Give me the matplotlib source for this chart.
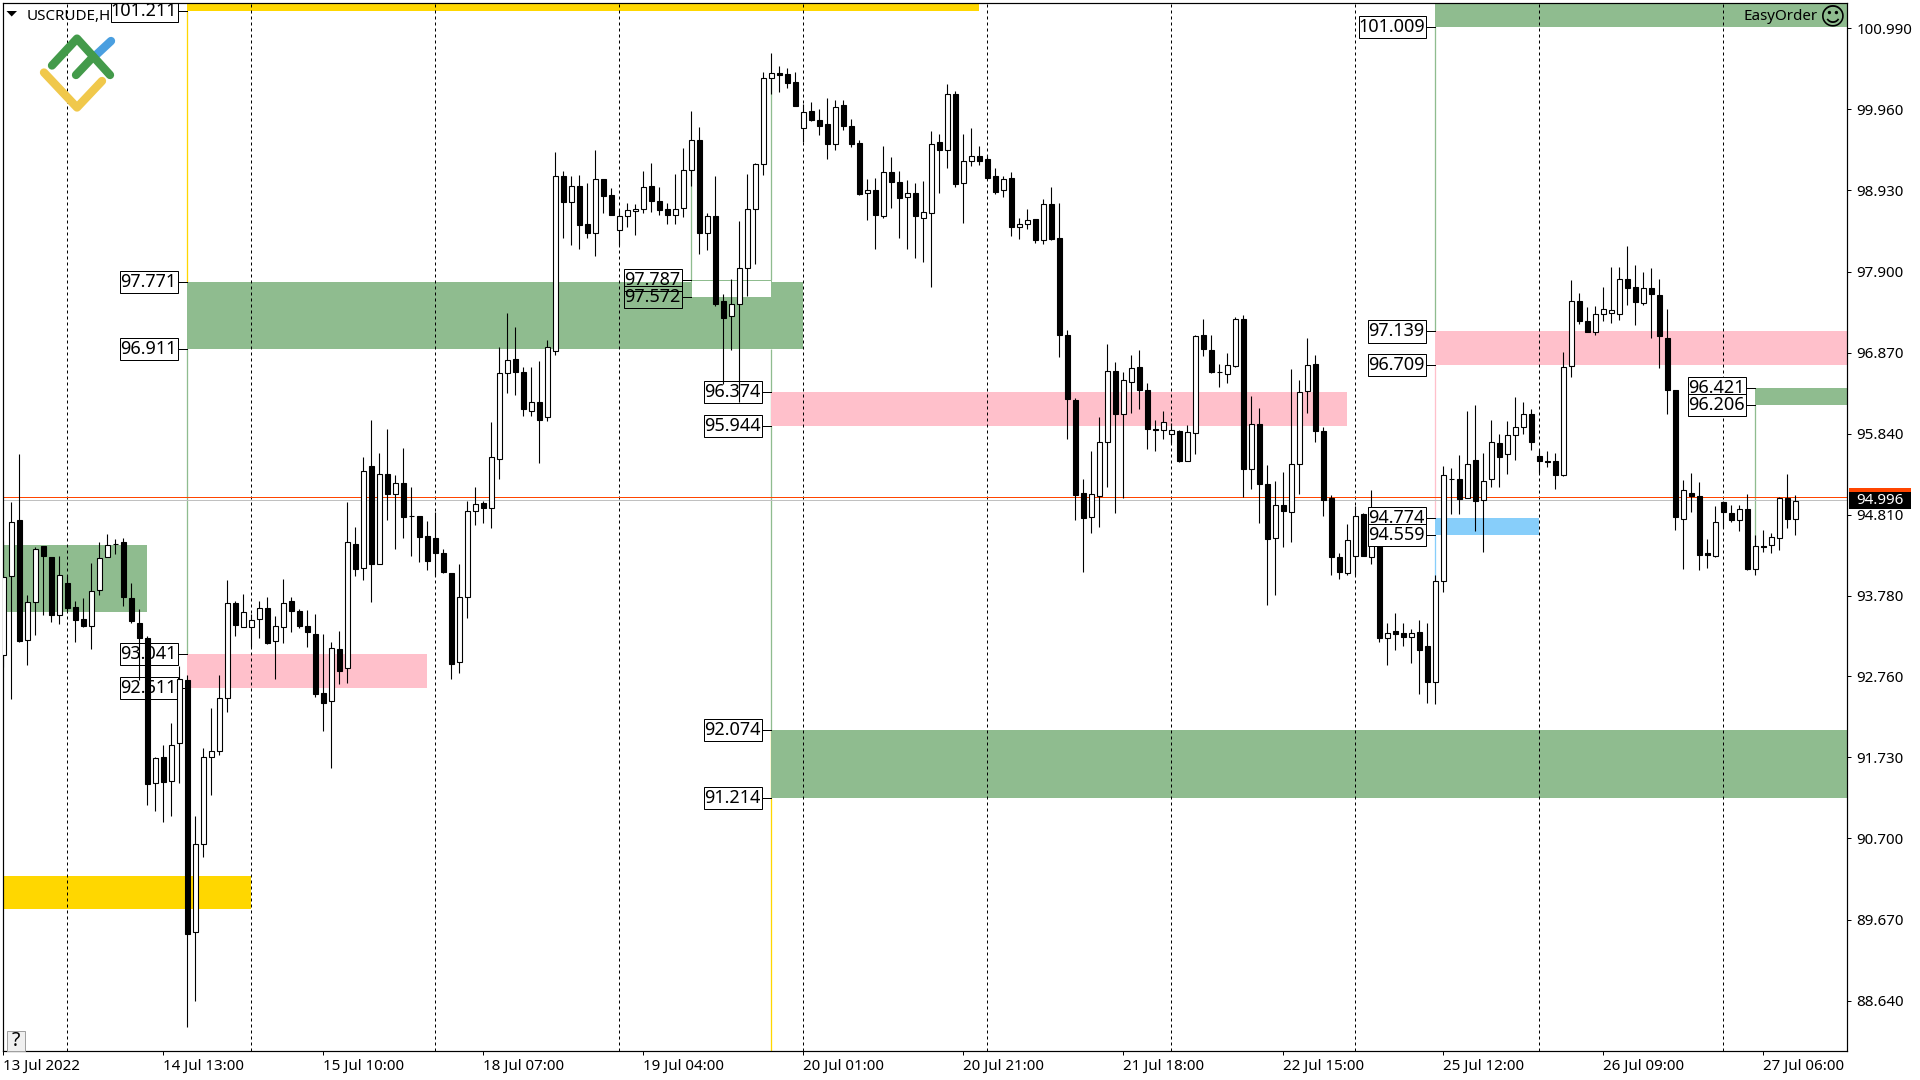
import numpy as np
import matplotlib
matplotlib.use('Agg')
import matplotlib.pyplot as plt
from matplotlib.lines import Line2D
from matplotlib.patches import Rectangle, Polygon

plt.rcParams['font.family'] = ['Noto Sans', 'DejaVu Sans']

W, H = 1920, 1080
PX = 0.72  # one pixel in points at dpi 100

opens = [93.03,94.03,94.75,93.22,93.70,94.41,94.28,93.54,93.95,93.64,
93.49,93.40,93.86,94.27,94.44,94.46,93.75,93.44,93.24,91.40,
91.73,91.43,91.91,92.71,89.51,90.63,91.74,91.81,92.48,93.69,
93.39,93.39,93.49,93.63,93.21,93.39,93.71,93.59,93.40,93.30,
92.55,92.44,93.10,92.87,94.44,94.13,95.43,94.19,95.33,95.07,
95.22,94.79,94.79,94.54,94.51,94.32,94.07,92.94,93.77,94.86,
94.96,94.90,95.52,96.61,96.79,96.63,96.13,96.24,96.05,96.89,
99.12,98.78,98.99,98.50,98.39,99.07,98.87,98.43,98.60,98.67,
98.70,98.99,98.80,98.69,98.62,98.71,99.19,99.57,98.39,98.60,
97.52,97.33,97.49,97.95,98.70,99.26,100.36,100.42,100.41,100.31,
99.72,99.94,99.82,99.77,99.52,100.01,99.75,99.53,98.90,98.93,
98.60,99.17,99.04,98.85,98.90,98.58,98.64,99.54,99.44,100.15,
99.03,99.31,99.37,99.33,99.11,98.93,99.09,98.47,98.51,98.57,
98.30,98.76,98.32,97.09,96.27,95.09,94.78,95.05,95.73,96.64,
96.09,96.50,96.69,96.40,95.90,95.89,95.84,95.88,95.49,95.85,
97.09,96.91,96.63,96.60,96.70,97.30,95.39,95.97,95.20,94.51,
94.94,94.84,95.45,96.38,96.73,95.88,95.03,94.28,94.07,94.29,
94.82,94.28,94.74,93.24,93.33,93.31,93.26,93.32,93.14,92.69,
93.97,95.27,95.27,95.03,95.51,95.00,95.26,95.72,95.58,95.82,
95.92,96.09,95.56,95.49,95.49,95.32,96.70,97.52,97.27,97.13,
97.36,97.38,97.36,97.81,97.70,97.50,97.69,97.60,97.05,96.39,
94.76,95.09,95.05,94.33,94.29,94.97,94.83,94.74,94.89,94.12,
94.42,94.43,94.52,95.03,94.76]

highs = [94.48,94.97,95.58,93.79,94.40,94.41,94.28,94.29,94.04,93.71,
93.76,94.20,94.46,94.57,94.50,94.52,93.95,93.62,93.27,91.73,
91.89,92.17,92.89,92.78,90.98,91.85,92.36,92.78,93.98,93.72,
93.81,93.55,93.72,93.77,93.52,94.00,93.77,93.62,93.60,93.55,
93.30,93.20,93.34,94.97,94.65,95.54,96.02,95.60,95.90,95.31,
95.66,95.16,94.79,94.73,94.84,94.38,94.07,94.19,94.99,95.16,
94.99,95.99,96.94,97.37,97.19,96.69,96.69,96.77,97.03,99.42,
99.18,99.11,99.13,99.02,99.45,99.08,98.96,98.68,98.77,98.76,
99.18,99.28,98.98,98.77,99.14,99.47,99.94,99.73,98.65,99.11,
97.62,97.81,98.54,99.14,99.28,100.43,100.68,100.51,100.49,100.43,
100.03,100.05,99.96,100.10,100.08,100.08,99.84,99.57,99.08,99.09,
99.49,99.36,99.18,99.06,99.03,99.05,99.68,99.65,100.28,100.19,
99.65,99.72,99.50,99.38,99.21,99.11,99.17,98.58,98.70,98.57,
98.82,98.98,98.77,97.16,96.30,95.26,95.62,96.05,96.98,96.75,
96.62,96.84,96.90,96.49,96.01,96.13,95.98,95.89,95.95,97.10,
97.30,97.09,96.73,96.87,97.32,97.35,96.32,96.17,95.44,95.24,
95.35,96.66,96.52,97.05,96.84,95.92,95.06,94.32,94.69,94.92,
94.83,95.13,94.80,93.44,93.56,93.44,93.36,93.48,93.43,94.04,
95.43,95.41,95.57,96.13,96.20,95.60,96.02,95.84,96.00,96.31,
96.24,96.16,95.63,95.62,95.60,96.88,97.79,97.63,97.45,97.46,
97.71,97.96,97.96,98.23,97.98,97.89,97.94,97.81,97.42,96.39,
95.25,95.34,95.23,94.50,94.92,94.98,94.94,94.93,95.07,94.55,
94.62,94.58,95.04,95.33,95.06]

lows = [92.88,92.47,93.19,92.90,93.28,93.54,93.45,93.42,93.59,93.19,
93.38,93.11,93.79,94.27,94.31,93.65,93.43,92.71,91.12,91.05,
90.91,90.98,91.40,88.30,88.63,90.47,91.25,91.76,92.30,93.27,
93.38,93.13,93.24,93.17,92.72,93.18,93.32,93.37,93.13,92.49,
92.07,91.59,92.66,92.68,94.03,93.98,93.70,94.19,94.74,94.38,
94.51,94.29,94.21,94.11,94.03,94.07,92.72,92.80,93.50,94.68,
94.71,94.64,95.27,96.36,96.33,96.06,96.07,95.47,96.00,96.84,
98.32,98.24,98.19,98.32,98.10,98.64,98.62,98.24,98.47,98.36,
98.65,98.66,98.62,98.50,98.51,98.59,98.99,98.12,98.18,97.46,
96.47,96.91,96.24,97.59,97.99,99.13,100.16,100.18,100.23,100.00,
99.54,99.81,99.63,99.33,99.44,99.70,99.48,98.87,98.56,98.19,
98.58,98.71,98.32,98.19,98.07,98.02,97.71,98.90,99.21,98.98,
98.52,99.24,99.25,99.07,98.89,98.85,98.35,98.31,98.44,98.26,
98.25,98.30,96.82,95.77,94.75,94.08,94.58,94.66,95.16,94.83,
95.02,96.10,96.15,95.64,95.62,95.77,95.72,95.48,95.49,95.58,
96.83,96.61,96.43,96.49,96.69,95.04,95.14,94.71,93.67,93.79,
94.40,94.46,95.07,96.10,95.74,94.79,94.05,93.99,94.05,94.04,
94.29,94.18,93.20,92.90,93.09,93.15,92.93,92.53,92.42,92.41,
93.83,94.82,94.82,95.02,94.61,94.34,95.17,95.16,95.33,95.51,
95.84,95.63,95.34,95.42,95.14,95.30,96.56,97.24,97.13,97.09,
97.27,97.25,97.28,97.47,97.22,97.47,97.05,96.68,96.09,94.62,
94.12,94.85,94.11,94.13,94.27,94.64,94.72,94.61,94.11,94.04,
94.34,94.33,94.36,94.64,94.55]

closes = [94.02,94.72,93.21,93.70,94.38,94.29,93.54,94.04,93.63,93.47,
93.40,93.84,94.26,94.43,94.44,93.77,93.46,93.24,91.39,91.72,
91.42,91.89,92.73,89.49,90.63,91.73,91.81,92.48,93.69,93.41,
93.58,93.48,93.63,93.18,93.40,93.69,93.59,93.40,93.32,92.53,
92.42,93.12,92.83,94.46,94.12,95.37,94.19,95.33,95.07,95.22,
94.78,94.79,94.53,94.23,94.32,94.09,92.92,93.77,94.86,94.95,
94.90,95.54,96.61,96.78,96.62,96.15,96.24,96.01,96.94,99.11,
98.78,98.99,98.49,98.39,99.08,98.86,98.62,98.60,98.68,98.70,
98.98,98.80,98.68,98.62,98.70,99.19,99.57,98.39,98.60,97.49,
97.31,97.49,97.94,98.70,99.26,100.36,100.42,100.40,100.30,100.00,
99.93,99.83,99.75,99.52,99.99,99.75,99.52,98.89,98.93,98.62,
99.17,99.04,98.83,98.90,98.61,98.66,99.52,99.44,100.15,99.01,
99.31,99.37,99.31,99.09,98.91,99.08,98.47,98.50,98.56,98.30,
98.76,98.31,97.09,96.28,95.06,94.77,95.07,95.74,96.64,96.09,
96.52,96.68,96.40,95.90,95.89,95.99,95.89,95.49,95.86,97.08,
96.92,96.63,96.62,96.71,97.30,95.39,95.97,95.20,94.50,94.94,
94.86,95.45,96.37,96.71,95.88,95.00,94.27,94.08,94.49,94.80,
94.29,94.74,93.24,93.31,93.30,93.26,93.31,93.09,92.69,93.97,
95.31,95.26,95.01,95.46,94.99,95.24,95.73,95.55,95.82,95.92,
96.09,95.73,95.49,95.48,95.32,96.69,97.52,97.27,97.13,97.36,
97.43,97.41,97.81,97.69,97.51,97.69,97.62,97.08,96.39,94.78,
95.12,95.05,94.30,94.30,94.72,94.84,94.74,94.89,94.12,94.42,
94.40,94.53,95.03,94.76,94.99]

price_ticks = [100.99,99.96,98.93,97.90,96.87,95.84,94.81,93.78,92.76,91.73,90.70,89.67,88.64]
time_ticks = [0,20,40,60,80,100,120,140,160,180,200,220]
time_labels = ['13 Jul 2022','14 Jul 13:00','15 Jul 10:00','18 Jul 07:00','19 Jul 04:00','20 Jul 01:00',
               '20 Jul 21:00','21 Jul 18:00','22 Jul 15:00','25 Jul 12:00','26 Jul 09:00','27 Jul 06:00']
separators = [8,31,54,77,100,123,146,169,192,215]

bid = 94.996
ask = 95.04

X_MIN, X_MAX = -0.075, 230.5
Y_MIN, Y_MAX = 88.0, 101.315

GREEN, PINK, GOLD, BLUE = '#8FBC8F', '#FFC0CB', '#FFD700', '#87CEFA'

# zones: first bar, last bar, upper price, lower price, colour
zone_start = [23, 179, -1, 23, 86, 96, 96, 179, 179, 179, 219, 23, -1]
zone_end = [122, 231, 18, 100, 96, 168, 231, 231, 231, 192, 231, 53, 31]
zone_upper = [102.0, 102.0, 94.43, 97.771, 97.787, 96.374, 92.074, 102.0, 97.139, 94.774, 96.421, 93.041, 90.22]
zone_lower = [101.211, 101.009, 93.57, 96.911, 97.572, 95.944, 91.214, 101.009, 96.709, 94.559, 96.206, 92.611, 89.80]
zone_color = [GOLD, GREEN, GREEN, GREEN, 'white', PINK, GREEN, GREEN, PINK, BLUE, GREEN, PINK, GOLD]

# thin line from each zone back to the bar it belongs to
link_bar = [23, 23, 86, 96, 96, 96, 179, 179, 179, 219]
link_from = [101.211, 96.911, 99.19, 100.36, 96.911, 92.074, 101.009, 96.709, 94.559, 96.206]
link_to = [97.771, 93.041, 97.787, 97.787, 92.074, 88.0, 97.139, 94.774, 93.97, 94.42]
link_color = [GOLD, GREEN, GREEN, GREEN, GREEN, GOLD, GREEN, PINK, BLUE, GREEN]

label_bar = [23, 23, 23, 23, 23, 86, 86, 96, 96, 96, 96, 179, 179, 179, 179, 179, 219, 219]
label_price = [101.211, 97.771, 96.911, 93.041, 92.611, 97.787, 97.572, 96.374, 95.944, 92.074, 91.214,
               101.009, 97.139, 96.709, 94.774, 94.559, 96.421, 96.206]
label_text = ['%.3f' % p for p in label_price]

fig = plt.figure(figsize=(W / 100, H / 100), dpi=100, facecolor='white')
ax = fig.add_axes([2.7 / W, 1 - 1051 / H, (1847.3 - 2.7) / W, (1051 - 2.7) / H])
ax.set_xlim(X_MIN, X_MAX)
ax.set_ylim(Y_MIN, Y_MAX)


def to_fig(x, y):
    return x / W, 1 - y / H


for i in range(len(zone_start)):
    edge = GREEN if zone_color[i] == 'white' else 'none'
    ax.add_patch(Rectangle((zone_start[i], zone_lower[i]), zone_end[i] - zone_start[i],
                           zone_upper[i] - zone_lower[i], facecolor=zone_color[i],
                           edgecolor=edge, linewidth=PX, zorder=1.2))

for i in range(len(link_bar)):
    ax.plot([link_bar[i], link_bar[i]], [link_from[i], link_to[i]], color=link_color[i],
            linewidth=1.3 * PX, zorder=1.1, solid_capstyle='butt')

for s in separators:
    ax.axvline(s, color='black', linewidth=PX, linestyle=(0, (3, 3)), zorder=1.5)

ax.axhline(ask, color='#FF4500', linewidth=PX, zorder=1.7)
ax.axhline(bid, color='#C0C0C0', linewidth=PX, zorder=1.7)

# labels sit under the candles, except the pair at 94.7 and 94.5
for i in range(len(label_bar)):
    right = label_bar[i] - 1.2
    width = 8.4 if len(label_text[i]) > 6 else 7.25
    z = 4 if label_price[i] in (94.774, 94.559) else 2
    fill = 'none' if label_price[i] in (97.787, 97.572) else 'white'
    ax.add_patch(Rectangle((right - width, label_price[i] - 0.14), width, 0.28, facecolor=fill,
                           edgecolor='black', linewidth=PX, zorder=z))
    ax.plot([right, label_bar[i]], [label_price[i], label_price[i]], color='black', linewidth=PX, zorder=z)
    ax.text(right - 0.12, label_price[i], label_text[i], ha='right', va='center', fontsize=13.0,
            color='black', zorder=z + 0.1)

bars = np.arange(len(opens))
o = np.array(opens)
c = np.array(closes)
ax.vlines(bars, lows, highs, color='black', linewidth=1.1 * PX, zorder=3)
up = c >= o
ax.bar(bars[up], (c - o)[up], bottom=o[up], width=0.6, facecolor='white', edgecolor='black',
       linewidth=1.1 * PX, zorder=3.1)
ax.bar(bars[~up], (o - c)[~up], bottom=c[~up], width=0.6, facecolor='black', edgecolor='black',
       linewidth=1.1 * PX, zorder=3.1)

ax.yaxis.tick_right()
ax.set_yticks(price_ticks)
ax.set_yticklabels(['%.3f' % p for p in price_ticks])
ax.set_xticks(time_ticks)
ax.set_xticklabels(time_labels, ha='left')
ax.tick_params(axis='y', length=3, width=PX, pad=3.5, labelsize=10.9, color='black')
ax.tick_params(axis='x', length=3, width=PX, pad=2.5, labelsize=10.9, color='black')
for sp in ax.spines.values():
    sp.set_linewidth(1.2 * PX)
    sp.set_color('black')

# current price tag on the axis
ax.add_patch(Rectangle((230.7, 95.10), 7.8, 0.055, facecolor='#FF4500', edgecolor='none', clip_on=False, zorder=9))
ax.add_patch(Rectangle((230.7, 94.88), 7.8, 0.22, facecolor='black', edgecolor='none', clip_on=False, zorder=9))
ax.text(234.6, bid, '%.3f' % bid, color='white', ha='center', va='center', fontsize=10.9, clip_on=False, zorder=10)

# chart title, EasyOrder and the help button
fig.add_artist(Polygon([to_fig(6.5, 11), to_fig(17, 11), to_fig(11.7, 16.5)], closed=True,
                       facecolor='black', edgecolor='none', transform=fig.transFigure, zorder=1))
ax.text(0.0129, 0.9868, 'USCRUDE,H1', transform=ax.transAxes, ha='left', va='center', fontsize=10.9, zorder=1.9)
ax.text(0.9838, 0.9872, 'EasyOrder', transform=ax.transAxes, ha='right', va='center', fontsize=10.9, zorder=5)
ax.text(0.9920, 0.9860, '\u263A', transform=ax.transAxes, ha='center', va='center', fontsize=17.8,
        family='DejaVu Sans', zorder=5)
fig.add_artist(Rectangle(to_fig(6.5, 1051), 18 / W, 20 / H, facecolor='#F0F0F0', edgecolor='#A0A0A0',
                         linewidth=PX, transform=fig.transFigure, zorder=5))
x_q, y_q = to_fig(15.5, 1041)
fig.text(x_q, y_q, '?', ha='center', va='center', fontsize=14, color='black', zorder=6)

# logo
def logo(points, color):
    xs = [to_fig(*p)[0] for p in points]
    ys = [to_fig(*p)[1] for p in points]
    fig.add_artist(Line2D(xs, ys, color=color, linewidth=6.0, solid_capstyle='round',
                          solid_joinstyle='round', transform=fig.transFigure, zorder=4))


logo([(96, 55), (111, 41)], '#4A9FE0')
logo([(44, 72.5), (77, 107.5), (102, 81)], '#F0C84B')
logo([(52, 65.5), (77, 38.6), (110, 75)], '#439A4A')
logo([(76, 75), (93, 57)], '#439A4A')

fig.savefig('out.png', dpi=100)
